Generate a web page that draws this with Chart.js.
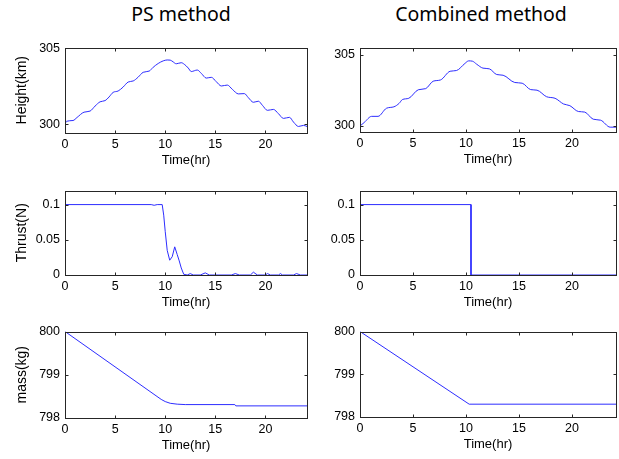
<!DOCTYPE html>
<html><head><meta charset="utf-8">
<script src="https://cdn.jsdelivr.net/npm/chart.js@4.4.1/dist/chart.umd.min.js"></script>
<style>
html,body{margin:0;padding:0;background:#fff;}
#wrap{position:relative;width:619px;height:459px;overflow:hidden;background:#fff;}
canvas{position:absolute;}
.ttl{position:absolute;font-family:"Noto Sans",sans-serif;font-size:19.5px;line-height:24px;white-space:nowrap;transform:translateX(-50%);color:#000;top:2px;}
</style></head><body>
<div id="wrap">
<div class="ttl" style="left:181px">PS method</div>
<div class="ttl" style="left:481px">Combined method</div>
</div>
<script>
// ---------- data ----------
const columnTitles = ["PS method", "Combined method"];
const xTicks = [0, 5, 10, 15, 20];
const heightTicks = [300, 305];
const thrustTicks = [0, 0.05, 0.1];
const massTicks = [798, 799, 800];

// PS method
const psHeightT = [0,0.15,0.8,1.2,1.9,2.5,3.0,3.5,4.0,4.4,4.8,5.3,5.8,6.3,6.8,7.3,7.8,8.4,8.8,9.3,9.8,10.2,10.5,10.8,11.1,11.6,11.9,12.3,12.6,13.2,13.6,14.1,14.6,15.1,15.6,16.2,16.7,17.3,17.9,18.3,18.8,19.3,19.7,20.2,20.8,21.3,21.8,22.4,22.8,23.3,23.8,24.15];
const psHeight  = [300.0,300.2,300.25,300.45,300.8,300.87,301.2,301.48,301.56,301.8,302.1,302.19,302.45,302.78,302.85,303.1,303.42,303.5,303.75,304.0,304.17,304.23,304.22,304.1,303.98,304.05,303.95,303.7,303.47,303.57,303.35,303.04,303.09,302.8,302.52,302.58,302.3,302.0,302.02,301.75,301.45,301.52,301.25,300.92,300.98,300.7,300.39,300.46,300.15,299.86,299.93,299.86];

const psThrustT = [0,0.05,8.6,8.9,9.2,9.7,9.85,10.0,10.2,10.45,10.7,10.95,11.2,11.4,11.6,11.85,12.2,12.5,12.8,13.5,14.0,14.4,16.6,17.0,17.4,18.5,18.8,19.2,20.0,20.2,20.5,21.3,21.5,21.7,22.8,23.1,23.5,24.15];
const psThrust  = [0,0.1,0.1,0.099,0.1,0.1,0.085,0.062,0.035,0.021,0.026,0.04,0.029,0.02,0.01,0.001,0,0.002,0,0,0.003,0,0,0.002,0,0,0.004,0,0,0.002,0,0,0.002,0,0,0.002,0,0];

const psMassT = [0,9.6,10.0,10.5,11.2,12.0,16.95,17.05,24.15];
const psMass  = [800,798.43,798.38,798.34,798.32,798.31,798.31,798.28,798.28];

// Combined method
const cbHeightT = [0,0.4,1.1,1.7,2.5,3.2,3.7,4.0,4.6,5.5,6.2,6.9,7.6,8.5,9.1,9.9,10.25,10.6,11.0,11.6,12.2,12.9,13.5,14.6,15.3,16.1,16.7,17.6,18.4,19.2,19.8,20.6,21.2,22.0,22.7,23.6,24.15];
const cbHeight  = [300.0,300.25,300.68,300.68,301.25,301.35,301.6,301.86,301.95,302.55,302.63,303.15,303.24,303.85,303.9,304.4,304.58,304.56,304.35,304.07,304.02,303.62,303.57,303.06,303.01,302.56,302.52,302.06,301.95,301.55,301.43,301.02,300.98,300.48,300.41,299.92,299.92];

const cbThrustT = [0,10.47,10.47,24.15];
const cbThrust  = [0.1,0.1,0,0];

const cbMassT = [0,10.3,24.15];
const cbMass  = [800,798.3,798.3];

// ---------- layout ----------
const YW_L = 58, YW_R = 45, PT = 10, XH = 40;
const LINE = 'rgb(45,45,255)';
const TICKFONT = {family: '"Liberation Sans", Arial, sans-serif', size: 12.5};

const boxPlugin = {
  id: 'mbox',
  afterDraw(chart) {
    const {ctx, chartArea: ca, scales: {x, y}} = chart;
    ctx.save();
    ctx.strokeStyle = '#262626';
    ctx.lineWidth = 1;
    const L = Math.round(ca.left) + 0.5, R = Math.round(ca.right) + 0.5;
    const T = Math.round(ca.top) + 0.5, B = Math.round(ca.bottom) + 0.5;
    ctx.strokeRect(L, T, R - L, B - T);
    const tl = 3;
    ctx.beginPath();
    x.ticks.forEach(t => {
      const p = Math.round(x.getPixelForValue(t.value)) + 0.5;
      ctx.moveTo(p, B); ctx.lineTo(p, B - tl);
      ctx.moveTo(p, T); ctx.lineTo(p, T + tl);
    });
    y.ticks.forEach(t => {
      const p = Math.round(y.getPixelForValue(t.value)) + 0.5;
      ctx.moveTo(L, p); ctx.lineTo(L + tl, p);
      ctx.moveTo(R, p); ctx.lineTo(R - tl, p);
    });
    ctx.stroke();
    ctx.restore();
  }
};

function panel(p) {
  const yw = p.yTitle ? YW_L : YW_R;
  const pr = 3;
  const cv = document.createElement('canvas');
  const w = (p.R - p.L) + yw + pr;
  const h = (p.B - p.T) + PT + XH;
  cv.width = w; cv.height = h;
  cv.style.left = (p.L - yw) + 'px';
  cv.style.top = (p.T - PT) + 'px';
  cv.style.width = w + 'px'; cv.style.height = h + 'px';
  document.getElementById('wrap').appendChild(cv);
  const pts = p.xs.map((t, i) => ({x: t, y: p.ys[i]}));
  new Chart(cv, {
    type: 'line',
    data: {datasets: [{data: pts, borderColor: LINE, borderWidth: 1, pointRadius: 0,
      fill: false, cubicInterpolationMode: p.smooth ? 'monotone' : 'default', tension: 0}]},
    options: {
      responsive: false, animation: false, devicePixelRatio: 1,
      layout: {padding: {top: PT, right: pr, left: 0, bottom: 0}},
      plugins: {legend: {display: false}, tooltip: {enabled: false}},
      scales: {
        x: {type: 'linear', min: 0, max: p.xMax,
          afterBuildTicks: s => { s.ticks = xTicks.map(v => ({value: v})); },
          afterFit: s => { s.height = XH; },
          grid: {display: false, drawTicks: false}, border: {display: false},
          ticks: {padding: 4, color: '#000', font: TICKFONT, maxRotation: 0, autoSkip: false,
            callback: v => String(v)},
          title: {display: true, text: 'Time(hr)', color: '#000',
            font: {family: '"Liberation Sans", Arial, sans-serif', size: 13}, padding: {top: 0, bottom: 5}}
        },
        y: {type: 'linear', min: p.yMin, max: p.yMax,
          afterBuildTicks: s => { s.ticks = p.yTicks.map(v => ({value: v})); },
          afterFit: s => { s.width = yw; },
          grid: {display: false, drawTicks: false}, border: {display: false},
          ticks: {padding: 5, color: '#000', font: TICKFONT, autoSkip: false, callback: v => String(v)},
          title: {display: !!p.yTitle, text: p.yTitle || '', color: '#000',
            font: {family: '"Liberation Sans", Arial, sans-serif', size: 14}, padding: {top: 7, bottom: 0}}
        }
      }
    },
    plugins: [boxPlugin]
  });
}

const XMAX = 24.15;
panel({L: 65, R: 307, T: 45, B: 133, xMax: XMAX, yMin: 299.43, yMax: 305.05, yTicks: heightTicks, yTitle: 'Height(km)', xs: psHeightT, ys: psHeight, smooth: true});
panel({L: 360, R: 616, T: 45, B: 132, xMax: XMAX, yMin: 299.58, yMax: 305.52, yTicks: heightTicks, yTitle: null, xs: cbHeightT, ys: cbHeight, smooth: true});
panel({L: 65, R: 307, T: 188, B: 275, xMax: XMAX, yMin: 0, yMax: 0.12, yTicks: thrustTicks, yTitle: 'Thrust(N)', xs: psThrustT, ys: psThrust});
panel({L: 360, R: 616, T: 188, B: 275, xMax: XMAX, yMin: 0, yMax: 0.12, yTicks: thrustTicks, yTitle: null, xs: cbThrustT, ys: cbThrust});
panel({L: 65, R: 307, T: 329, B: 418, xMax: XMAX, yMin: 798, yMax: 800, yTicks: massTicks, yTitle: 'mass(kg)', xs: psMassT, ys: psMass});
panel({L: 360, R: 616, T: 329, B: 417, xMax: XMAX, yMin: 798, yMax: 800, yTicks: massTicks, yTitle: null, xs: cbMassT, ys: cbMass});
</script>
</body></html>
